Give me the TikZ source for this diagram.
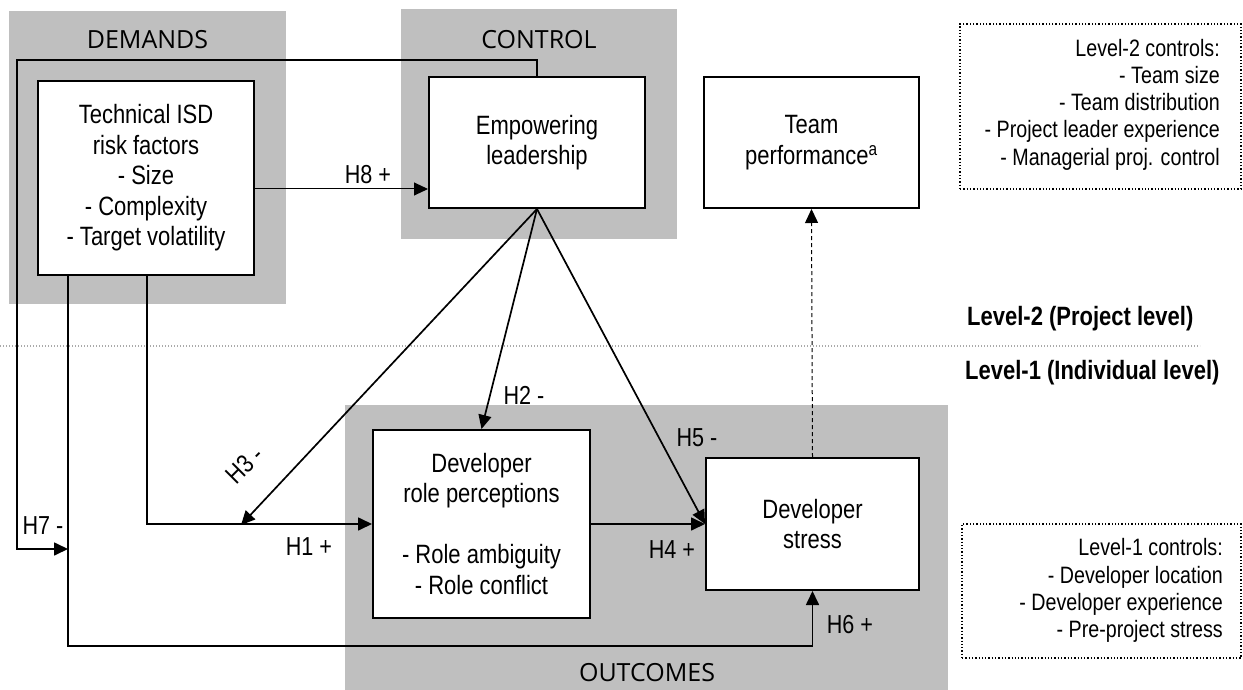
\documentclass[tikz,border=0pt]{standalone}
\usepackage{fontspec}
\setmainfont{Liberation Sans}[FakeStretch=0.83]
\newfontfamily\regionfont{Open Sans}
\usetikzlibrary{arrows.meta}
\definecolor{regiongray}{RGB}{191,191,191}
\definecolor{dotgray}{RGB}{170,170,170}
\begin{document}
\begin{tikzpicture}[x=1pt,y=-1pt,
  region/.style={fill=regiongray, draw=none, inner sep=0pt, minimum width=#1},
  regionlabel/.style={font=\regionfont\fontsize{25}{29}\selectfont, inner sep=0pt},
  varbox/.style={draw=black, line width=2pt, fill=white, align=center, inner sep=0pt,
    font=\fontsize{26.5}{30.5}\selectfont},
  ctrlbox/.style={draw=black, line width=1.3pt, dotted, inner sep=0pt},
  ctrltext/.style={align=right, inner sep=0pt, font=\fontsize{23.7}{27.25}\selectfont},
  hlabel/.style={inner sep=0pt, font=\fontsize{26}{30}\selectfont},
  levellabel/.style={inner sep=0pt, font=\bfseries\fontsize{26.5}{30}\selectfont},
  conn/.style={line width=1.7pt, -{Triangle[length=14pt,width=13pt]}},
  thinconn/.style={line width=1pt, -{Triangle[length=14pt,width=13pt]}},
  plainline/.style={line width=1.6pt}
]
\useasboundingbox (0,0) rectangle (1243,690);

% grey regions
\node[region=277pt, minimum height=293pt] (demR) at (147.5,157.5) {};
\node[region=276pt, minimum height=230pt] (ctlR) at (539,124) {};
\node[region=603pt, minimum height=285pt] (outR) at (646.5,547.5) {};
\node[regionlabel] (demL) at (147.5,40) {DEMANDS};
\node[regionlabel] (ctlL) at (539,40) {CONTROL};
\node[regionlabel] (outL) at (647,673) {OUTCOMES};

% level separator
\coordinate (sepL) at (0,346);
\coordinate (sepR) at (1200,346);
\draw[dotgray, line width=1.3pt, dash pattern=on 1.3pt off 1.7pt] (sepL) -- (sepR);
\node[levellabel, anchor=base west] (lev2) at (967,325) {Level-2 (Project level)};
\node[levellabel, anchor=base west] (lev1) at (965,379) {Level-1 (Individual level)};

% variable boxes
\node[varbox, minimum width=216pt, minimum height=194pt] (tech) at (146,178)
  {Technical ISD\\risk factors\\- Size\\- Complexity\\- Target volatility};
\node[varbox, minimum width=216pt, minimum height=131pt] (emp) at (537,142.5)
  {Empowering\\leadership};
\node[varbox, minimum width=215pt, minimum height=131pt] (team) at (811.5,142.5)
  {Team\\performance\textsuperscript{a}};
\node[varbox, minimum width=217pt, minimum height=188pt] (role) at (481.5,524)
  {Developer\\role perceptions\\[30.5pt]- Role ambiguity\\- Role conflict};
\node[varbox, minimum width=213pt, minimum height=132pt] (stress) at (812.5,524)
  {Developer\\stress};

% control boxes
\node[ctrlbox, minimum width=281pt, minimum height=165pt] (c2) at (1100.5,106.5) {};
\node[ctrltext, anchor=east] (c2t) at (1220,104.5)
  {Level-2 controls:\\- Team size\\- Team distribution\\- Project leader experience\\- Managerial proj. control};
\node[ctrlbox, minimum width=279pt, minimum height=134pt] (c1) at (1101.5,591) {};
\node[ctrltext, anchor=east] (c1t) at (1223,590.5)
  {Level-1 controls:\\- Developer location\\- Developer experience\\- Pre-project stress};

% helper coordinates
\coordinate (h8y) at (0,189);
\coordinate (h7top) at (17,60);
\coordinate (h7end) at (68,549);
\coordinate (h1x) at (147,0);
\coordinate (boty) at (0,646);
\coordinate (h3end) at (241,525);

% connectors
\draw[thinconn] (tech.east |- h8y) -- (emp.west |- h8y);
\draw[conn] (emp.north) |- (h7top) |- (h7end);
\draw[conn] (tech.south -| h7end) |- (stress.south |- boty) -- (stress.south);
\draw[conn] (tech.south -| h1x) |- (role.west);
\draw[conn] (emp.south) -- (h3end);
\draw[conn] (emp.south) -- (role.north);
\draw[conn] (emp.south) -- (stress.west);
\draw[conn] (role.east) -- (stress.west);
\draw[line width=1pt, dash pattern=on 4pt off 3pt, -{Triangle[length=14pt,width=13pt]}] (stress.north) -- (team.south);

% hypothesis labels
\node[hlabel] (lh8) at (368,175) {H8 +};
\node[hlabel] (lh7) at (43,526) {H7 -};
\node[hlabel] (lh1) at (309,547) {H1 +};
\node[hlabel, rotate=45] (lh3) at (245,465) {H3 -};
\node[hlabel] (lh2) at (524,395) {H2 -};
\node[hlabel] (lh5) at (697,438) {H5 -};
\node[hlabel] (lh4) at (672,550) {H4 +};
\node[hlabel] (lh6) at (850,625) {H6 +};
\end{tikzpicture}
\end{document}
